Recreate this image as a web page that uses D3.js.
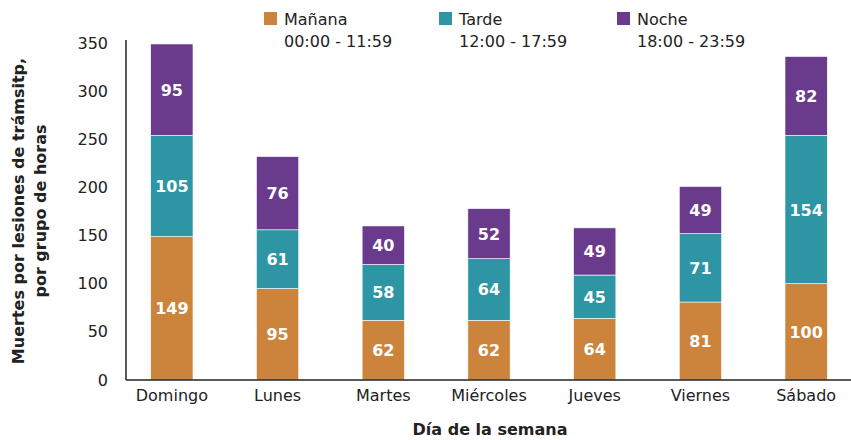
<!DOCTYPE html>
<html><head><meta charset="utf-8">
<script src="https://cdn.jsdelivr.net/npm/d3@7"></script>
<style>body{margin:0;background:#fff}svg{display:block;font-family:"DejaVu Sans",Verdana,sans-serif}</style>
</head><body><svg id="c" width="851" height="440"></svg>
<script>
const categories = ["Domingo","Lunes","Martes","Miércoles","Jueves","Viernes","Sábado"];
const manana = [149,95,62,62,64,81,100];
const tarde = [105,61,58,64,45,71,154];
const noche = [95,76,40,52,49,49,82];
const seriesNames = ["Mañana","Tarde","Noche"];
const seriesRanges = ["00:00 - 11:59","12:00 - 17:59","18:00 - 23:59"];
const yTicks = [0,50,100,150,200,250,300,350];
const colors = ["#CC843D","#2E95A4","#6A3A8C"];

const svg = d3.select("#c");
const x0 = 126, yBottom = 380;
const x = d3.scaleBand().domain(categories).range([119, 859]).paddingInner(0.6).paddingOuter(0.3);
const y = d3.scaleLinear().domain([0,350]).range([yBottom, 43]);

const data = categories.map((c,i)=>({cat:c, Mañana:manana[i], Tarde:tarde[i], Noche:noche[i]}));
const stack = d3.stack().keys(seriesNames)(data);

stack.forEach((s,si)=>{
  const g = svg.append("g");
  g.selectAll("rect").data(s).join("rect")
    .attr("x", d=>x(d.data.cat)).attr("width", x.bandwidth())
    .attr("y", d=>y(d[1])).attr("height", d=>y(d[0])-y(d[1]))
    .attr("fill", colors[si]).attr("stroke","#fff").attr("stroke-width",0.6);
  g.selectAll("text").data(s).join("text")
    .attr("x", d=>x(d.data.cat)+x.bandwidth()/2)
    .attr("y", d=>(y(d[0])+y(d[1]))/2 + 6)
    .attr("text-anchor","middle").attr("fill","#fff")
    .attr("font-weight","bold").attr("font-size",16)
    .text(d=>d[1]-d[0]);
});

const yAxis = svg.append("g").attr("transform",`translate(${x0},0)`)
  .call(d3.axisLeft(y).tickValues(yTicks).tickSize(0).tickPadding(18));
yAxis.select(".domain").attr("stroke","#222").attr("stroke-width",1.5).attr("d",`M0,${y(350)-3}V${yBottom}`);
yAxis.selectAll("text").attr("font-size",16).attr("fill","#222").attr("font-family","DejaVu Sans, sans-serif");

const xAxis = svg.append("g").attr("transform",`translate(0,${yBottom})`)
  .call(d3.axisBottom(x).tickSize(0).tickPadding(10));
xAxis.select(".domain").attr("stroke","#222").attr("stroke-width",1.5).attr("d",`M${x0},0H851`);
xAxis.selectAll("text").attr("font-size",16).attr("fill","#222").attr("font-family","DejaVu Sans, sans-serif");

svg.append("text").attr("x",490).attr("y",435).attr("text-anchor","middle")
  .attr("font-weight","bold").attr("font-size",16).attr("fill","#222").text("Día de la semana");
const yt = svg.append("text").attr("transform","translate(0,211) rotate(-90)")
  .attr("text-anchor","middle").attr("font-weight","bold").attr("font-size",16).attr("fill","#222");
yt.append("tspan").attr("x",0).attr("y",24).text("Muertes por lesiones de trámsitp,");
yt.append("tspan").attr("x",0).attr("y",46).text("por grupo de horas");

const legX = [264, 439, 617];
seriesNames.forEach((n,i)=>{
  svg.append("rect").attr("x",legX[i]).attr("y",12).attr("width",13).attr("height",13).attr("fill",colors[i]);
  svg.append("text").attr("x",legX[i]+20).attr("y",25).attr("font-size",16).attr("fill","#222").text(n);
  svg.append("text").attr("x",legX[i]+20).attr("y",47).attr("font-size",16).attr("fill","#222").text(seriesRanges[i]);
});
</script></body></html>
